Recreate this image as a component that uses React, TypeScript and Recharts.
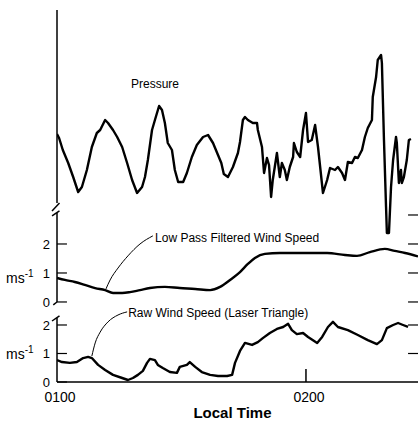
import React from 'react'
import {
  ComposedChart,
  Line,
  XAxis,
  YAxis,
  ReferenceLine,
  ReferenceDot,
  Label,
} from 'recharts'

const FONT = '"Liberation Sans", Arial, sans-serif'
const INK = '#000'

// minutes after 0100 local time
const pressureTime = [
  0, 0.5, 1.4, 2.7, 3.9, 5.1, 6.0, 7.2, 8.4, 9.6, 10.4, 11.6, 12.3, 13.5, 14.5,
  15.7, 16.9, 18.1, 19.3, 20.5, 21.2, 21.9, 22.9, 23.6, 24.6, 25.3, 26.0, 26.7,
  27.7, 28.4, 29.2, 30.4, 31.3, 32.5, 33.7, 35.2, 36.4, 37.6, 38.8, 39.6, 40.2,
  41.2, 42.4, 43.6, 44.1, 44.8, 45.3, 46.0, 47.2, 48.2, 48.4, 49.4, 49.9, 50.6,
  51.1, 51.6, 52.0, 53.0, 53.7, 54.2, 54.9, 55.4, 56.1, 56.9, 57.1, 57.8, 58.6,
  59.3, 60.0, 60.5, 61.4, 62.2, 62.9, 64.1, 65.1, 65.8, 67.0, 67.7, 68.7, 69.4,
  70.1, 71.1, 71.8, 72.5, 73.5, 74.2, 74.9, 75.9, 76.1, 76.9, 77.3, 78.1, 78.3,
  78.8, 79.3, 79.5, 80.0, 80.5, 81.0, 81.7, 81.9, 82.4, 82.9, 83.1, 83.6, 84.3,
  84.8, 85.3,
]
// relative pressure, arbitrary units
const pressureValues = [
  53, 51, 45, 38.5, 31.5, 24, 26.5, 35, 46.5, 53.5, 55, 60, 58.5, 55, 51.5,
  46.5, 38.5, 30, 23.5, 26.5, 31.5, 40, 55, 60, 67, 65, 58.5, 48.5,
  45, 35, 29, 29, 33.5, 41.5, 47.5, 51.5, 52.5, 48.5, 42.5, 38.5, 33,
  31.5, 36.5, 43.5, 49, 60, 61.5, 60, 58.5, 58.5, 55, 46.5, 33.5, 41,
  37.5, 21.5, 30, 43.5, 31.5, 38.5, 35, 30, 36.5, 41.5, 48.5, 44, 41.5,
  55, 63.5, 49, 50, 57.5, 46.5, 23.5, 30, 36, 35, 36.5, 33.5, 30,
  39, 38.5, 41.5, 41, 45, 51.5, 56, 60, 71.5, 81.5, 90, 92.5, 88.5,
  50, 16.5, 3.5, 3.5, 26.5, 40, 51.5, 48.5, 28.5, 35, 28.5, 31.5, 40,
  50, 50.5,
]

const lowPassTime = [
  0, 1.9, 4.3, 6.7, 9.2, 11.6, 13.5, 15.7, 17.6, 20.0, 22.4, 26.0, 29.6, 33.3,
  36.9, 39.3, 41.7, 44.1, 46.0, 47.7, 50.1, 53.7, 57.8, 61.4, 65.1, 69.4, 72.3,
  75.4, 79.0, 81.4, 83.9, 87,
]
// m/s
const lowPassValues = [
  0.83, 0.76, 0.69, 0.59, 0.48, 0.41, 0.31, 0.31, 0.34, 0.41, 0.48, 0.52, 0.48,
  0.45, 0.41, 0.52, 0.76, 1.03, 1.31, 1.52, 1.66, 1.69, 1.69, 1.69, 1.69, 1.62,
  1.59, 1.72, 1.83, 1.76, 1.69, 1.57,
]

const rawTime = [
  0, 1.2, 3.1, 4.8, 6.3, 7.5, 8.4, 9.9, 11.6, 13.5, 15.7, 17.1, 18.3, 19.5,
  20.7, 21.7, 22.4, 23.6, 24.3, 25.5, 27.2, 28.9, 29.6, 31.3, 32.0, 33.3, 34.9,
  36.9, 38.8, 41.0, 42.2, 42.9, 44.1, 45.3, 47.0, 48.4, 49.6, 51.3, 53.0, 54.5,
  55.7, 56.6, 57.8, 59.3, 60.5, 62.7, 63.9, 65.3, 66.5, 67.7, 70.1, 72.5, 74.9,
  77.1, 78.3, 79.5, 81.0, 82.2, 83.4, 84.6,
]
// m/s
const rawValues = [
  0.77, 0.7, 0.67, 0.7, 0.84, 0.88, 0.84, 0.6, 0.42, 0.25, 0.14, 0.07, 0.14,
  0.25, 0.39, 0.67, 0.81, 0.77, 0.6, 0.49, 0.35, 0.32, 0.53, 0.6, 0.7, 0.53,
  0.35, 0.25, 0.21, 0.21, 0.25, 0.67, 1.09, 1.37, 1.3, 1.4, 1.54, 1.72, 1.86,
  1.93, 2.04, 1.82, 1.68, 1.72, 1.58, 1.37, 1.58, 1.93, 2.11, 1.93, 1.82, 1.65,
  1.47, 1.33, 1.47, 1.89, 2.0, 2.07, 2.0, 1.93,
]

// curved pointers from the captions to the curves
const lowPassLeaderTime = [11.8, 12.8, 14.7, 17.1, 20.0, 23.1]
const lowPassLeaderValues = [0.45, 0.76, 1.17, 1.59, 2.0, 2.28]
const rawLeaderTime = [8.4, 9.2, 10.4, 12.3, 14.7, 16.9]
const rawLeaderValues = [0.91, 1.37, 1.75, 2.11, 2.35, 2.46]

const timeTicks = [0, 60]
const timeLabels = ['0100', '0200']
const leftSpeedTicks = [0, 1, 2]
const lowPassRightTicks = [0, 1, 2, 3]
const rawRightTicks = [1, 2]

const T_MAX = 87
const zip = (ts: number[], vs: number[]) => ts.map((t, i) => ({ t, v: vs[i] }))

const pressureData = zip(pressureTime, pressureValues)
const lowPassData = zip(lowPassTime, lowPassValues)
const rawData = zip(rawTime, rawValues)
const lowPassLeader = zip(lowPassLeaderTime, lowPassLeaderValues)
const rawLeader = zip(rawLeaderTime, rawLeaderValues)

function TimeTick({ x, y, payload }: any) {
  const i = timeTicks.indexOf(payload.value)
  return (
    <g>
      {payload.value > 0 && (
        <line x1={x} x2={x} y1={y} y2={y - 13} stroke={INK} strokeWidth={1.5} />
      )}
      <text x={x + 3} y={y + 20} textAnchor="middle" fontSize={14} fontFamily={FONT} fill={INK}>
        {timeLabels[i]}
      </text>
    </g>
  )
}

function TopTick({ x, y }: any) {
  return <line x1={x} x2={x} y1={y} y2={y + 12} stroke={INK} strokeWidth={1.5} />
}

function MsLabel({ viewBox }: any) {
  return (
    <text x={viewBox.x - 50} y={viewBox.y + 5} fontSize={14} fontFamily={FONT} fill={INK}>
      ms
      <tspan dy={-6} fontSize={10}>-1</tspan>
    </text>
  )
}

const caption = (text: string) => ({
  value: text,
  position: 'right' as const,
  offset: 0,
  fontSize: 12,
  fontFamily: FONT,
  fill: INK,
})

const tickLabel = (text: string) => ({
  value: text,
  position: 'left' as const,
  offset: 7,
  fontSize: 13,
  fontFamily: FONT,
  fill: INK,
})

export default function App() {
  const axisStroke = { stroke: INK, strokeWidth: 1.5 }
  return (
    <div style={{ position: 'absolute', left: 0, top: 0, background: '#fff' }}>
      <ComposedChart width={418} height={421} margin={{ top: 10, right: 0, bottom: 3, left: 57 }}>
        <XAxis
          xAxisId="b"
          type="number"
          dataKey="t"
          domain={[0, T_MAX]}
          ticks={timeTicks}
          allowDataOverflow
          height={36}
          tickSize={0}
          tickMargin={0}
          tick={<TimeTick />}
          axisLine={axisStroke}
        >
          <Label
            value="Local Time"
            position="insideBottom"
            offset={0}
            dx={-5}
            fontSize={15}
            fontWeight="bold"
            fontFamily={FONT}
            fill={INK}
          />
        </XAxis>
        <XAxis
          xAxisId="top"
          orientation="top"
          type="number"
          dataKey="t"
          domain={[0, T_MAX]}
          ticks={[60]}
          allowDataOverflow
          height={0}
          tickSize={0}
          tickMargin={0}
          tick={<TopTick />}
          axisLine={axisStroke}
        />
        <YAxis yAxisId="p" hide type="number" domain={[-71, 115]} allowDataOverflow />
        <YAxis yAxisId="lp" hide type="number" domain={[-2.76, 10.07]} allowDataOverflow />
        <YAxis yAxisId="raw" hide type="number" domain={[0, 13.05]} allowDataOverflow />

        {/* broken left axis */}
        <ReferenceLine xAxisId="b" yAxisId="p" segment={[{ x: 0, y: 18.5 }, { x: 0, y: 115 }]} {...axisStroke} ifOverflow="visible" />
        <ReferenceLine xAxisId="b" yAxisId="p" segment={[{ x: -1.2, y: 14.5 }, { x: 0.6, y: 18.5 }]} {...axisStroke} ifOverflow="visible" />
        <ReferenceLine xAxisId="b" yAxisId="lp" segment={[{ x: 0, y: 0 }, { x: 0, y: 3.07 }]} {...axisStroke} ifOverflow="visible" />
        <ReferenceLine xAxisId="b" yAxisId="lp" segment={[{ x: -1.2, y: 2.97 }, { x: 0.6, y: 3.14 }]} {...axisStroke} ifOverflow="visible" />
        <ReferenceLine xAxisId="b" yAxisId="lp" segment={[{ x: -0.9, y: -0.1 }, { x: 0, y: 0 }]} {...axisStroke} ifOverflow="visible" />
        <ReferenceLine xAxisId="b" yAxisId="raw" segment={[{ x: 0, y: 0 }, { x: 0, y: 2.25 }]} {...axisStroke} ifOverflow="visible" />
        <ReferenceLine xAxisId="b" yAxisId="raw" segment={[{ x: -1.2, y: 2.14 }, { x: 0.6, y: 2.32 }]} {...axisStroke} ifOverflow="visible" />

        {leftSpeedTicks.map((v) => (
          <ReferenceLine
            key={'lpl' + v}
            xAxisId="b"
            yAxisId="lp"
            segment={[{ x: 0, y: v }, { x: 2.4, y: v }]}
            stroke={INK}
            strokeWidth={1.2}
            label={tickLabel(String(v))}
            ifOverflow="visible"
          />
        ))}
        {leftSpeedTicks.map((v) => (
          <ReferenceLine
            key={'rwl' + v}
            xAxisId="b"
            yAxisId="raw"
            segment={[{ x: 0, y: v }, { x: 2.4, y: v }]}
            stroke={INK}
            strokeWidth={1.2}
            label={tickLabel(String(v))}
            ifOverflow="visible"
          />
        ))}
        {lowPassRightTicks.map((v) => (
          <ReferenceLine
            key={'lpr' + v}
            xAxisId="b"
            yAxisId="lp"
            segment={[{ x: T_MAX - 2.4, y: v }, { x: T_MAX, y: v }]}
            stroke={INK}
            strokeWidth={1.2}
            ifOverflow="visible"
          />
        ))}
        {rawRightTicks.map((v) => (
          <ReferenceLine
            key={'rwr' + v}
            xAxisId="b"
            yAxisId="raw"
            segment={[{ x: T_MAX - 2.4, y: v }, { x: T_MAX, y: v }]}
            stroke={INK}
            strokeWidth={1.2}
            ifOverflow="visible"
          />
        ))}

        <ReferenceDot xAxisId="b" yAxisId="lp" x={0} y={0.79} r={1} fill="none" stroke="none" ifOverflow="visible" label={(p: any) => <MsLabel viewBox={p.viewBox} />} />
        <ReferenceDot xAxisId="b" yAxisId="raw" x={0} y={0.95} r={1} fill="none" stroke="none" ifOverflow="visible" label={(p: any) => <MsLabel viewBox={p.viewBox} />} />

        <ReferenceDot xAxisId="b" yAxisId="p" x={17.6} y={78} r={1} fill="none" stroke="none" label={caption('Pressure')} />
        <ReferenceDot xAxisId="b" yAxisId="lp" x={23.4} y={2.2} r={1} fill="none" stroke="none" label={caption('Low Pass Filtered Wind Speed')} />
        <ReferenceDot xAxisId="b" yAxisId="raw" x={16.9} y={2.42} r={1} fill="none" stroke="none" label={caption('Raw Wind Speed (Laser Triangle)')} />

        <Line xAxisId="b" yAxisId="lp" data={lowPassLeader} dataKey="v" type="monotone" stroke={INK} strokeWidth={1} dot={false} isAnimationActive={false} />
        <Line xAxisId="b" yAxisId="raw" data={rawLeader} dataKey="v" type="monotone" stroke={INK} strokeWidth={1} dot={false} isAnimationActive={false} />

        <Line xAxisId="b" yAxisId="p" data={pressureData} dataKey="v" type="linear" stroke={INK} strokeWidth={2.4} strokeLinejoin="round" dot={false} isAnimationActive={false} />
        <Line xAxisId="b" yAxisId="lp" data={lowPassData} dataKey="v" type="monotone" stroke={INK} strokeWidth={2.4} dot={false} isAnimationActive={false} />
        <Line xAxisId="b" yAxisId="raw" data={rawData} dataKey="v" type="linear" stroke={INK} strokeWidth={2.4} strokeLinejoin="round" dot={false} isAnimationActive={false} />
      </ComposedChart>
    </div>
  )
}
